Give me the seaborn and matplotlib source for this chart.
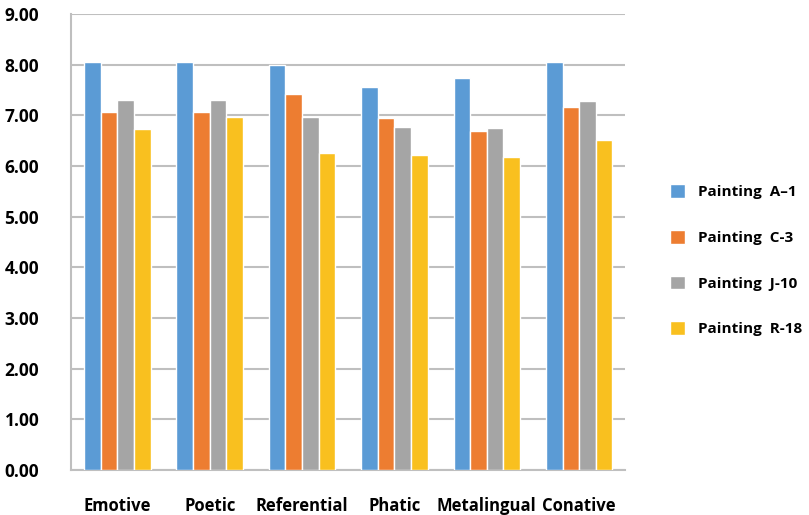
import pandas as pd
import matplotlib
matplotlib.use("Agg")
import matplotlib.pyplot as plt
import seaborn as sns
import numpy as np

# Datos
categorias = ["Emotive", "Poetic", "Referential", "Phatic", "Metalingual", "Conative"]
pinturas = ["Painting  A\u20131", "Painting  C-3", "Painting  J-10", "Painting  R-18"]
valores_a1 = [8.05, 8.05, 8.00, 7.56, 7.73, 8.05]
valores_c3 = [7.07, 7.07, 7.43, 6.94, 6.70, 7.16]
valores_j10 = [7.30, 7.30, 6.96, 6.77, 6.74, 7.28]
valores_r18 = [6.73, 6.96, 6.26, 6.22, 6.17, 6.51]
colores = ["#5B9BD5", "#ED7D31", "#A5A5A5", "#F9C01F"]

df = pd.DataFrame({
    "Categoria": categorias * 4,
    "Pintura": np.repeat(pinturas, len(categorias)),
    "Valor": valores_a1 + valores_c3 + valores_j10 + valores_r18,
})

sns.set_style("white")
plt.rcParams["font.family"] = ["Open Sans", "DejaVu Sans"]
plt.rcParams["text.color"] = "black"
plt.rcParams["xtick.labelcolor"] = "black"
plt.rcParams["ytick.labelcolor"] = "black"

fig = plt.figure(figsize=(8.09, 5.15), dpi=100)
ax = fig.add_axes([0.088, 0.087, 0.685, 0.886])

sns.barplot(data=df, x="Categoria", y="Valor", hue="Pintura", palette=colores,
            saturation=1, width=0.72, edgecolor="white", linewidth=1, ax=ax, zorder=3)

ax.set_ylim(0, 9)
ax.set_xlim(-0.5, 5.5)
ax.set_yticks(np.arange(0, 10, 1))
ax.set_yticklabels([f"{v:.2f}" for v in np.arange(0, 10, 1)], fontsize=12.5, fontweight="bold")
ax.yaxis.grid(True, color="#BFBFBF", linewidth=1.5, zorder=0)
ax.set_axisbelow(True)

ax.set_xticks(range(len(categorias)))
ax.set_xticklabels(categorias, fontsize=12, fontweight="bold")
ax.tick_params(axis="x", length=0, pad=19)
ax.set_xticks(np.arange(-0.5, 6, 1), minor=True)
ax.tick_params(axis="x", which="minor", length=8, color="#BFBFBF", width=1.5)
ax.tick_params(axis="y", length=8, color="#BFBFBF", width=1.5, pad=15)

ax.set_xlabel("")
ax.set_ylabel("")
for lado in ["top", "right"]:
    ax.spines[lado].set_visible(False)
for lado in ["left", "bottom"]:
    ax.spines[lado].set_color("#BFBFBF")
    ax.spines[lado].set_linewidth(1.5)

ax.legend(loc="center left", bbox_to_anchor=(1.056, 0.46), frameon=False,
          prop={"weight": "bold", "size": 11}, labelspacing=2.0,
          handlelength=1.0, handleheight=1.0, handletextpad=0.8)

plt.savefig("out.png", dpi=100)
